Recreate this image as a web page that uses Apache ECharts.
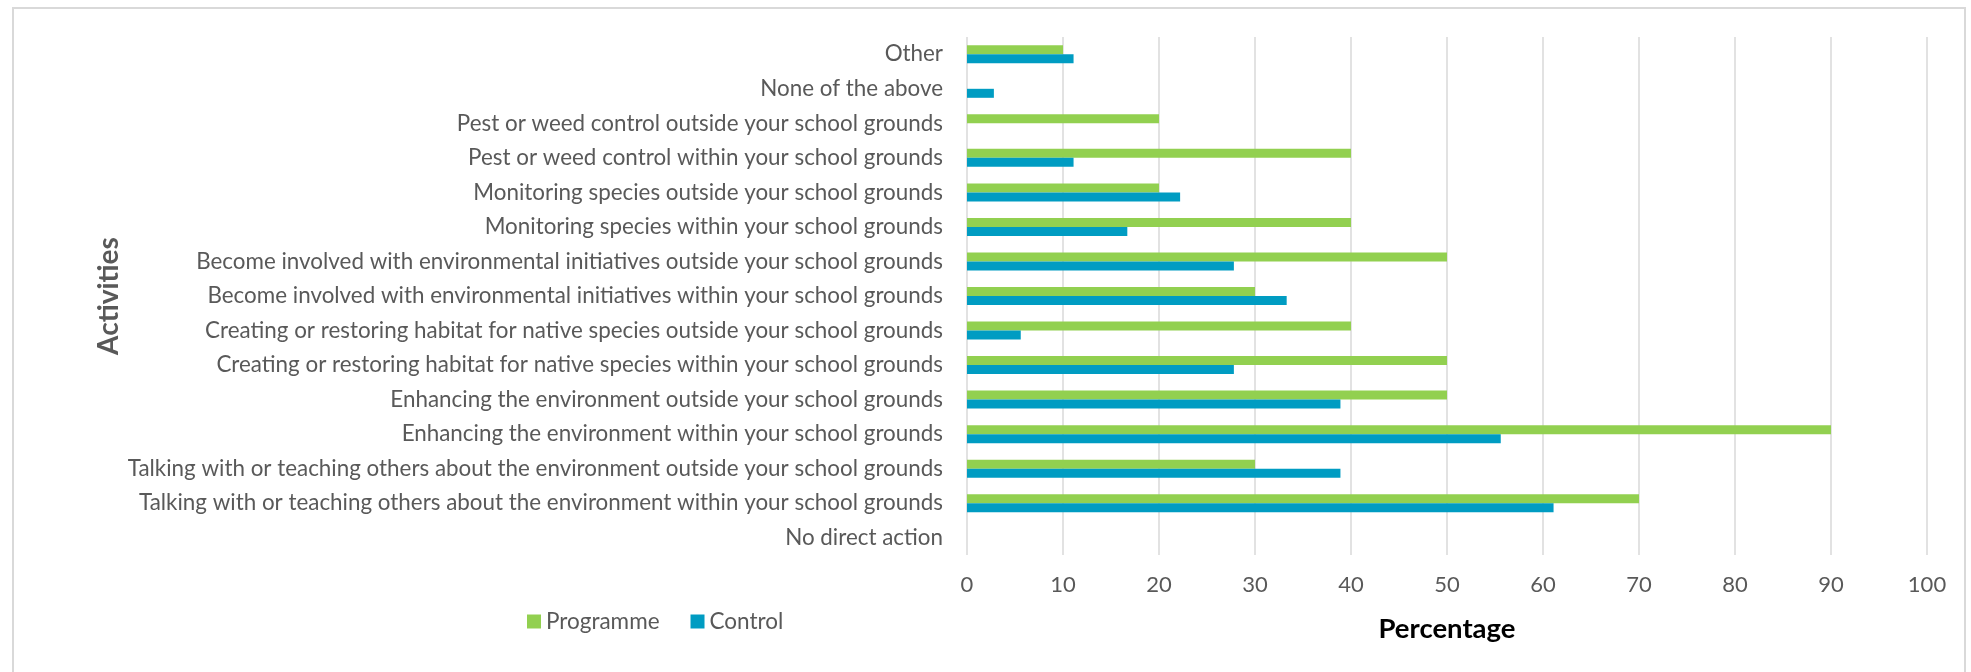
<!DOCTYPE html>
<html>
<head>
<meta charset="utf-8">
<title>Activities by group</title>
<script src="https://cdn.jsdelivr.net/npm/echarts@6/dist/echarts.min.js"></script>
<style>
  html, body { margin: 0; padding: 0; background: #ffffff; }
  #chart { width: 1971px; height: 672px; }
</style>
</head>
<body>
<div id="chart"></div>
<script>
// Activities, listed from the top row down
const activities = [
  'Other',
  'None of the above',
  'Pest or weed control outside your school grounds',
  'Pest or weed control within your school grounds',
  'Monitoring species outside your school grounds',
  'Monitoring species within your school grounds',
  'Become involved with environmental initiatives outside your school grounds',
  'Become involved with environmental initiatives within your school grounds',
  'Creating or restoring habitat for native species outside your school grounds',
  'Creating or restoring habitat for native species within your school grounds',
  'Enhancing the environment outside your school grounds',
  'Enhancing the environment within your school grounds',
  'Talking with or teaching others about the environment outside your school grounds',
  'Talking with or teaching others about the environment within your school grounds',
  'No direct action'
];

// Percentage of respondents in each group
const programme = [10, 0, 20, 40, 20, 40, 50, 30, 40, 50, 50, 90, 30, 70, 0];
const control   = [11.1, 2.8, 0, 11.1, 22.2, 16.7, 27.8, 33.3, 5.6, 27.8, 38.9, 55.6, 38.9, 61.1, 0];

const percentTicks = [0, 10, 20, 30, 40, 50, 60, 70, 80, 90, 100];

const FONT = 'Lato, "Open Sans", sans-serif';
const GREY = '#595959';

const chart = echarts.init(document.getElementById('chart'), null, { renderer: 'canvas' });

chart.setOption({
  backgroundColor: '#ffffff',
  animation: false,
  textStyle: { fontFamily: FONT },
  graphic: [{
    type: 'rect',
    shape: { x: 13, y: 8, width: 1952, height: 700 },
    style: { fill: 'none', stroke: '#d9d9d9', lineWidth: 2 },
    silent: true,
    z: -10
  }],
  grid: { left: 967, right: 44, top: 37, bottom: 117, containLabel: false },
  legend: {
    data: ['Programme', 'Control'],
    left: 522,
    top: 605,
    icon: 'rect',
    itemWidth: 14,
    itemHeight: 14,
    itemGap: 31,
    textStyle: { color: GREY, fontSize: 22.5, fontFamily: FONT }
  },
  xAxis: {
    type: 'value',
    min: percentTicks[0],
    max: percentTicks[percentTicks.length - 1],
    interval: 10,
    name: 'Percentage',
    nameLocation: 'middle',
    nameGap: 60,
    nameTextStyle: { color: '#000000', fontSize: 27.5, fontWeight: 'bold', fontFamily: FONT },
    axisLine: { show: false },
    axisTick: { show: false },
    axisLabel: { color: GREY, fontSize: 22, margin: 19, fontFamily: FONT },
    splitLine: { show: true, lineStyle: { color: '#d9d9d9', width: 1.5 } }
  },
  yAxis: {
    type: 'category',
    inverse: true,
    data: activities,
    name: 'Activities',
    nameLocation: 'middle',
    nameGap: 844,
    nameRotate: 90,
    nameTextStyle: { color: GREY, fontSize: 28, fontWeight: 'bold', fontFamily: FONT },
    axisLine: { show: false },
    axisTick: { show: false },
    axisLabel: { color: GREY, fontSize: 22.4, margin: 24, fontFamily: FONT },
    splitLine: { show: false }
  },
  series: [
    {
      name: 'Programme',
      type: 'bar',
      data: programme,
      barWidth: 9,
      barGap: '0%',
      itemStyle: { color: '#92d050' }
    },
    {
      name: 'Control',
      type: 'bar',
      data: control,
      barWidth: 9,
      barGap: '0%',
      itemStyle: { color: '#009cc2' }
    }
  ]
});
</script>
</body>
</html>
